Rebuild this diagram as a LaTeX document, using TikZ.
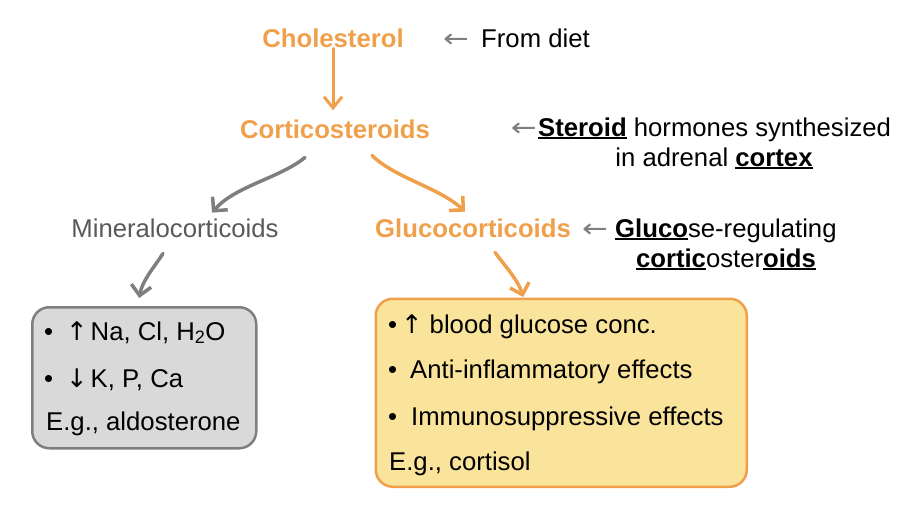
\documentclass[tikz,border=0pt]{standalone}
\usepackage{graphicx}
\usepackage{fontspec}
\setmainfont{Liberation Sans}
\newfontfamily\arrowfont{DejaVu Sans}
\usetikzlibrary{arrows.meta,calc}
\definecolor{corange}{HTML}{F0A04B}
\definecolor{cgraytext}{HTML}{595959}
\definecolor{cgrayline}{HTML}{7F7F7F}
\definecolor{cgrayfill}{HTML}{D9D9D9}
\definecolor{cyellowfill}{HTML}{FAE49C}
\newcommand{\ulbf}[1]{\setbox0\hbox{\textbf{#1}}\rlap{\rule[-3pt]{\wd0}{2pt}}\box0\relax}
\newcommand{\arr}[1]{{\arrowfont #1}}
\newcommand{\harr}[1]{\scalebox{1.2}[1]{\arrowfont #1}}
\begin{document}
\begin{tikzpicture}[x=1pt,y=-1pt,
  txt/.style={inner sep=0pt, font=\fontsize{25.7}{30}\selectfont, text=black},
  ttl/.style={txt, text=corange, font=\fontsize{25.7}{30}\selectfont\bfseries},
  ann/.style={txt, text=cgrayline},
  flow/.style={line width=3.5pt, draw=corange, line cap=round, line join=round,
    -{Straight Barb[length=10pt,width=20pt]}},
  gflow/.style={flow, draw=cgrayline},
  vflow/.style={line width=3pt, draw=corange, line cap=round,
    -{Straight Barb[length=11pt,width=18pt]}},
  boxstyle/.style={rounded corners=17pt, line width=2.5pt, inner sep=0pt, anchor=north west},
]
\useasboundingbox (0,0) rectangle (900,506);

% titles and annotations
\node[ttl, anchor=base] (chol) at (333,47) {Cholesterol};
\node[ann, anchor=base] (a1) at (456,47) {\harr{←}};
\node[txt, anchor=base west] (diet) at (481,47) {From diet};

\node[ttl, anchor=base] (cort) at (335,138) {Corticosteroids};
\node[ann, anchor=base east] (a2) at (537,136) {\harr{←}};
\node[txt, anchor=base west] (ster1) at (538,136) {\ulbf{Steroid} hormones synthesized};
\node[txt, anchor=base] (ster2) at (714,166) {in adrenal \ulbf{cortex}};

\node[txt, anchor=base, text=cgraytext] (mineral) at (175,237) {Mineralocorticoids};
\node[ttl, anchor=base] (gluco) at (473,237) {Glucocorticoids};
\node[ann, anchor=base] (a3) at (595,237) {\harr{←}};
\node[txt, anchor=base west] (gl1) at (615,237) {\ulbf{Gluco}se-regulating};
\node[txt, anchor=base] (gl2) at (726,267) {\ulbf{cortic}oster\ulbf{oids}};

% boxes
\node[boxstyle, draw=cgrayline, fill=cgrayfill, minimum width=224pt, minimum height=141pt] (mbox) at (31,306) {};
\node[boxstyle, draw=corange, fill=cyellowfill, minimum width=371pt, minimum height=188pt] (obox) at (374.5,297.5) {};

\node[txt, anchor=base west] (m1) at (44,340) {•\hspace{13pt}\arr{↑}\hspace{3pt}Na, Cl, H\textsubscript{2}O};
\node[txt, anchor=base west] (m2) at (44,387) {•\hspace{13pt}\arr{↓}\hspace{3pt}K, P, Ca};
\node[txt, anchor=base west] (m3) at (46,430) {E.g., aldosterone};

\node[txt, anchor=base west] (g1) at (388,333) {•\hspace{4pt}\arr{↑}\hspace{7pt}blood glucose conc.};
\node[txt, anchor=base west] (g2) at (388,378) {•\hspace{13pt}Anti-inflammatory effects};
\node[txt, anchor=base west] (g3) at (388,425) {•\hspace{14pt}Immunosuppressive effects};
\node[txt, anchor=base west] (g4) at (389,470) {E.g., cortisol};

% connectors
\draw[vflow] ($(chol.south)+(0,1)$) -- ($(chol.south |- cort.north)+(0,-9)$);
\draw[gflow] ($(cort.south)+(-30,19)$) .. controls (280,178) and (235,186) .. ($(mineral.north)+(37,-5.5)$);
\draw[flow] ($(cort.south)+(37,17)$) .. controls (395,178) and (440,188) .. ($(gluco.north)+(-8,-6.5)$);
\draw[gflow] ($(mineral.south)+(-12,16)$) .. controls (155,266) and (142,281) .. ($(mbox.north)+(-5,-8)$);
\draw[flow] ($(gluco.south)+(22,15)$) .. controls (505,266) and (518,280) .. ($(obox.north)+(-38,-0.5)$);
\end{tikzpicture}
\end{document}
